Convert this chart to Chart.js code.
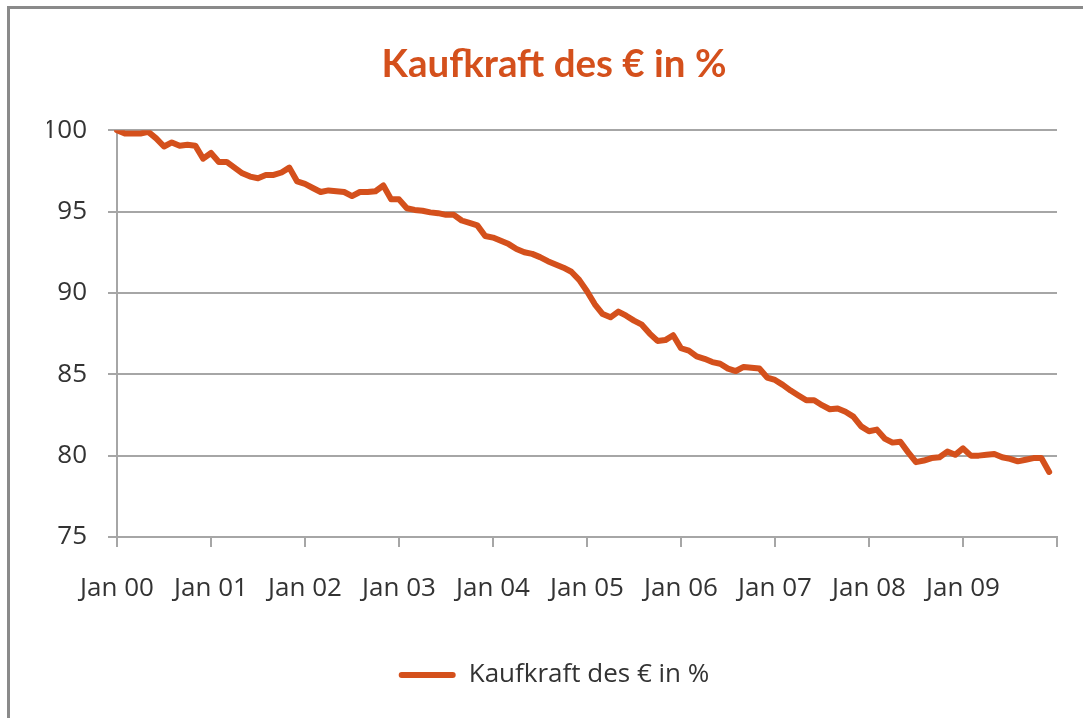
<!DOCTYPE html>
<html>
<head>
<meta charset="utf-8">
<script src="https://cdn.jsdelivr.net/npm/chart.js@4"></script>
<style>
  html, body { margin: 0; padding: 0; background: #fff; overflow: hidden; }
  #wrap { position: relative; width: 1083px; height: 718px; }
  #frame { position: absolute; left: 7px; top: 6px; width: 1100px; height: 740px;
           border-top: 3px solid #8a8a8a; border-left: 3px solid #8a8a8a; }
  canvas { position: absolute; left: 0; top: 0; }
</style>
</head>
<body>
<div id="wrap">
  <div id="frame"></div>
  <canvas id="chart" width="1083" height="718"></canvas>
</div>
<script>
// Kategorien: Monate Jan 00 .. Dez 09 (plus Jan 10 als Achsenende)
const monate = ['Jan', 'Feb', 'Mrz', 'Apr', 'Mai', 'Jun', 'Jul', 'Aug', 'Sep', 'Okt', 'Nov', 'Dez'];
const jahre = ['00', '01', '02', '03', '04', '05', '06', '07', '08', '09'];
const labels = [];
jahre.forEach(j => monate.forEach(m => labels.push(m + ' ' + j)));
labels.push('Jan 10');

// Kaufkraft des € in % (Jan 2000 = 100)
const kaufkraft = [
  100.0, 99.8, 99.8, 99.8, 99.9, 99.5, 99.0, 99.25, 99.05, 99.1, 99.05, 98.25,
  98.6, 98.05, 98.05, 97.7, 97.35, 97.15, 97.05, 97.25, 97.25, 97.4, 97.7, 96.85,
  96.7, 96.45, 96.2, 96.3, 96.25, 96.2, 95.95, 96.2, 96.2, 96.25, 96.6, 95.75,
  95.75, 95.2, 95.1, 95.05, 94.95, 94.9, 94.8, 94.8, 94.45, 94.3, 94.15, 93.5,
  93.4, 93.2, 93.0, 92.7, 92.5, 92.4, 92.2, 91.95, 91.75, 91.55, 91.3, 90.8,
  90.1, 89.3, 88.7, 88.5, 88.85, 88.6, 88.3, 88.05, 87.5, 87.05, 87.1, 87.4,
  86.6, 86.45, 86.1, 85.95, 85.75, 85.65, 85.35, 85.2, 85.45, 85.4, 85.35, 84.8,
  84.65, 84.35, 84.0, 83.7, 83.4, 83.4, 83.1, 82.85, 82.9, 82.7, 82.4, 81.8,
  81.5, 81.6, 81.05, 80.8, 80.85, 80.2, 79.6, 79.7, 79.85, 79.9, 80.25, 80.05,
  80.45, 80.0, 80.0, 80.05, 80.1, 79.9, 79.8, 79.65, 79.75, 79.85, 79.85, 79.0
];

const yTicks = [75, 80, 85, 90, 95, 100];

const orange = '#d4501c';
const grau = '#a6a6a6';
const schrift = "'Open Sans', 'Liberation Sans', sans-serif";

new Chart(document.getElementById('chart'), {
  type: 'line',
  data: {
    labels: labels,
    datasets: [{
      label: 'Kaufkraft des € in %',
      data: kaufkraft,
      borderColor: orange,
      backgroundColor: orange,
      borderWidth: 6,
      pointRadius: 0,
      tension: 0,
      borderCapStyle: 'round',
      borderJoinStyle: 'round'
    }]
  },
  options: {
    responsive: false,
    animation: false,
    layout: { padding: { left: 47, right: 22, top: 8, bottom: 20 } },
    plugins: {
      title: {
        display: true,
        text: 'Kaufkraft des € in %',
        color: orange,
        font: { family: "Lato, 'Open Sans', sans-serif", size: 38.5, weight: 'bold' },
        padding: { top: 33, bottom: 43 }
      },
      legend: {
        position: 'bottom',
        labels: {
          color: '#333',
          font: { family: schrift, size: 26 },
          boxWidth: 57,
          boxHeight: 6,
          useBorderRadius: true,
          borderRadius: 3,
          generateLabels: (chart) => Chart.defaults.plugins.legend.labels.generateLabels(chart)
            .map(item => Object.assign(item, { lineWidth: 0 }))
        }
      },
      tooltip: { enabled: false }
    },
    scales: {
      x: {
        offset: false,
        afterFit: (s) => { s.height = 115; },
        grid: {
          drawOnChartArea: false,
          tickLength: 10,
          lineWidth: 2,
          tickColor: (ctx) => (ctx.index % 12 === 0 ? grau : 'rgba(0,0,0,0)')
        },
        border: { color: grau, width: 2 },
        ticks: {
          autoSkip: false,
          maxRotation: 0,
          color: '#333',
          padding: 26,
          font: { family: schrift, size: 26 },
          callback: function (val, idx) {
            return idx % 12 === 0 && idx < 120 ? this.getLabelForValue(val) : '';
          }
        }
      },
      y: {
        min: 75,
        max: 100,
        afterFit: (s) => { s.width = 70; },
        afterBuildTicks: (s) => { s.ticks = yTicks.map(v => ({ value: v })); },
        grid: { color: grau, lineWidth: 2, tickLength: 9 },
        border: { color: grau, width: 2 },
        ticks: {
          color: '#333',
          padding: 21,
          font: { family: schrift, size: 26 }
        }
      }
    }
  }
});
</script>
</body>
</html>
